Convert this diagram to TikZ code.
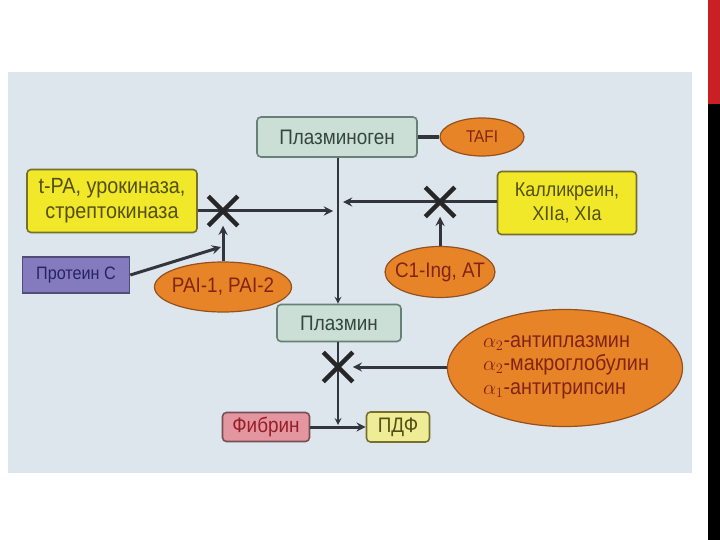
\documentclass[tikz,border=0pt]{standalone}
\usepackage{fontspec}
\setmainfont{Liberation Sans}[FakeStretch=0.9]
\usetikzlibrary{shapes.geometric, shapes.misc, arrows}
\definecolor{bgblue}{RGB}{221,229,237}
\definecolor{grnfill}{RGB}{204,223,214}
\definecolor{grnline}{RGB}{104,128,118}
\definecolor{grntext}{RGB}{52,70,62}
\definecolor{ylwfill}{RGB}{240,232,40}
\definecolor{ylwline}{RGB}{118,112,42}
\definecolor{ylwtext}{RGB}{84,80,20}
\definecolor{orgfill}{RGB}{232,132,40}
\definecolor{orgline}{RGB}{150,80,30}
\definecolor{orgtext}{RGB}{130,36,20}
\definecolor{prpfill}{RGB}{132,122,190}
\definecolor{prpline}{RGB}{80,76,120}
\definecolor{prptext}{RGB}{36,36,100}
\definecolor{pnkfill}{RGB}{228,150,160}
\definecolor{pnkline}{RGB}{120,80,84}
\definecolor{pnktext}{RGB}{150,30,40}
\definecolor{pdffill}{RGB}{238,236,150}
\definecolor{wire}{RGB}{50,54,60}
\definecolor{slidered}{RGB}{200,32,36}
\begin{document}
\begin{tikzpicture}[x=1pt, y=-1pt, >=stealth,
  txt/.style={font=\fontsize{21}{23}\selectfont, inner sep=0pt, align=center},
  greenbox/.style={txt, draw=grnline, fill=grnfill, text=grntext, rounded corners=4pt, line width=1.6pt},
  yellowbox/.style={txt, draw=ylwline, fill=ylwfill, text=ylwtext, rounded corners=4pt, line width=1.6pt},
  inhib/.style={ellipse, draw=orgline, fill=orgfill, line width=1.2pt, inner sep=0pt},
  inhibtxt/.style={txt, text=orgtext},
  blocker/.style={draw=black!85, cross out, line width=4.5pt, minimum size=25pt, inner sep=0pt},
  wirearrow/.style={->, draw=wire, line width=3pt}]
  % Slide and photo background
  \fill[white] (0,0) rectangle (720,540);
  \fill[bgblue] (8,72) rectangle (692,473);
  \fill[slidered] (708,0) rectangle (720,104);
  \fill[black] (708,104) rectangle (720,540);
  \useasboundingbox (0,0) rectangle (720,540);
  % Plasminogen and activators
  \node[greenbox, minimum width=160, minimum height=40] (plg) at (337,137) {Плазминоген};
  \node[inhib, minimum width=84, minimum height=38] (tafi) at (482,137) {};
  \node[inhibtxt, font=\fontsize{17}{20}\selectfont] (tafitxt) at (tafi) {TAFI};
  \node[yellowbox, minimum width=170, minimum height=63, font=\fontsize{22}{25}\selectfont] (tpa) at (112,201)
    {t-PA, урокиназа,\\стрептокиназа};
  \node[yellowbox, minimum width=139, minimum height=63, font=\fontsize{20}{24}\selectfont] (kal) at (567,203)
    {Калликреин,\\XIIa, XIa};
  \node[txt, draw=prpline, fill=prpfill, text=prptext, line width=1.6pt, font=\fontsize{18}{20}\selectfont,
        minimum width=107, minimum height=36] (prot) at (76,275) {Протеин C};
  \node[inhib, minimum width=137, minimum height=50] (pai) at (223,287) {};
  \node[inhibtxt] (paitxt) at (pai) {PAI-1, PAI-2};
  \node[inhib, minimum width=110, minimum height=51] (c1) at (440,272) {};
  \node[inhibtxt] (c1txt) at (c1) {C1-Ing, AT};
  % Plasmin and its inhibitors
  \node[greenbox, minimum width=124, minimum height=37] (pl) at (339,323) {Плазмин};
  \node[inhib, minimum width=235, minimum height=117] (alpha) at (565,368) {};
  \node[inhibtxt, align=left, font=\fontsize{22}{23.5}\selectfont] (alphatxt) at (566,367)
    {$\alpha_2$-антиплазмин\\$\alpha_2$-макроглобулин\\$\alpha_1$-антитрипсин};
  \node[txt, draw=pnkline, fill=pnkfill, text=pnktext, rounded corners=4pt, line width=1.6pt,
        minimum width=87, minimum height=29] (fib) at (266,427) {Фибрин};
  \node[txt, draw=ylwline, fill=pdffill, text=ylwtext, rounded corners=4pt, line width=1.6pt,
        minimum width=63, minimum height=30] (pdf) at (398,427) {ПДФ};
  % Line ends
  \coordinate (tpaend) at (333,211);
  \coordinate (kalend) at (343,202);
  \coordinate (protend) at (221,247);
  \coordinate (lysend) at (338,425);
  % Connectors
  \draw[wire, line width=4.5pt] (plg.east) -- (tafi.west);
  \draw[wirearrow, line width=2pt] (plg.south -| 338,0) -- (pl.north -| 338,0);
  \draw[wirearrow] (tpa.east |- tpaend) -- (tpaend);
  \draw[wirearrow] (kal.west |- kalend) -- (kalend);
  \draw[wirearrow, line width=2pt] (pl.south -| 338,0) -- (lysend);
  \draw[wirearrow] (fib.east) -- (pdf.west);
  % Blocks
  \node[blocker] (xtpa) at (223,211) {};
  \node[blocker] (xkal) at (440,202) {};
  \node[blocker] (xpl) at (338,367) {};
  \draw[wirearrow] (pai.north) -- (xtpa.south);
  \draw[wirearrow] (c1.north) -- (xkal.south);
  \draw[wirearrow] (prot.east) -- (protend);
  \draw[wirearrow] (alpha.west |- xpl.east) -- (xpl.east);
\end{tikzpicture}
\end{document}
